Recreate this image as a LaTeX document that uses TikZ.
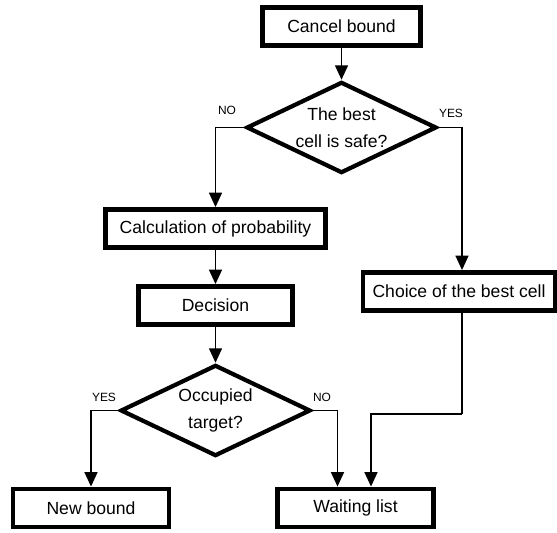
\documentclass[tikz,border=0pt]{standalone}
\usepackage{fontspec}
\setmainfont{Liberation Sans}
\usepackage{tikz}
\usetikzlibrary{arrows.meta,shapes.geometric,calc}

\begin{document}
\begin{tikzpicture}
[x=0.025cm,y=-0.025cm,
every node/.style={font=\fontsize{12.5}{19}\selectfont},
box/.style={draw,line width=3.4pt,minimum height=0.95cm,inner sep=0pt},
test/.style={draw,diamond,aspect=2.08,line width=3pt,minimum width=4.75cm,minimum height=2.28cm,inner sep=0pt,align=center},
answer/.style={font=\fontsize{8.5}{10}\selectfont,inner sep=0pt},
flow/.style={line width=1.3pt,-{Triangle[length=0.36cm,width=0.32cm]}},
link/.style={line width=1.3pt}]
\useasboundingbox (0,0) rectangle (557,532);
\node[box,minimum width=3.95cm] (cancel) at (341.5,26.5) {Cancel bound};
\node[test] (safe) at (341.5,127.5) {The best\\cell is safe?};
\node[box,minimum width=5.5cm] (calc) at (215.5,228.5) {Calculation of probability};
\node[box,minimum width=3.85cm] (decision) at (215.5,305.5) {Decision};
\node[box,minimum width=4.8cm] (choice) at (459,291.5) {Choice of the best cell};
\node[test] (occupied) at (215.5,410.5) {Occupied\\target?};
\node[box,minimum width=3.9cm] (newbound) at (91,508) {New bound};
\node[box,minimum width=3.9cm] (waiting) at (355.5,508) {Waiting list};
\node[answer] (no1) at (227,110) {NO};
\node[answer] (yes1) at (451,113) {YES};
\node[answer] (yes2) at (104,397) {YES};
\node[answer] (no2) at (322,397) {NO};
\coordinate (merge) at ($(choice.south)+(3,101.5)$);
\draw[flow] (cancel) -- (safe);
\draw[flow] (safe.west) -| (calc.north);
\draw[flow] ([xshift=-0.5pt]safe.east) -| ($(choice.north)+(3,0)$);
\draw[flow] (calc) -- (decision);
\draw[flow] (decision) -- (occupied);
\draw[flow] (occupied.west) -| (newbound.north);
\draw[flow] (occupied.east) -| ($(waiting.north)+(-18,0)$);
\draw[link] ($(choice.south)+(3,0)$) -- (merge);
\draw[flow] (merge) -| ($(waiting.north)+(15.5,0)$);
\end{tikzpicture}
\end{document}
